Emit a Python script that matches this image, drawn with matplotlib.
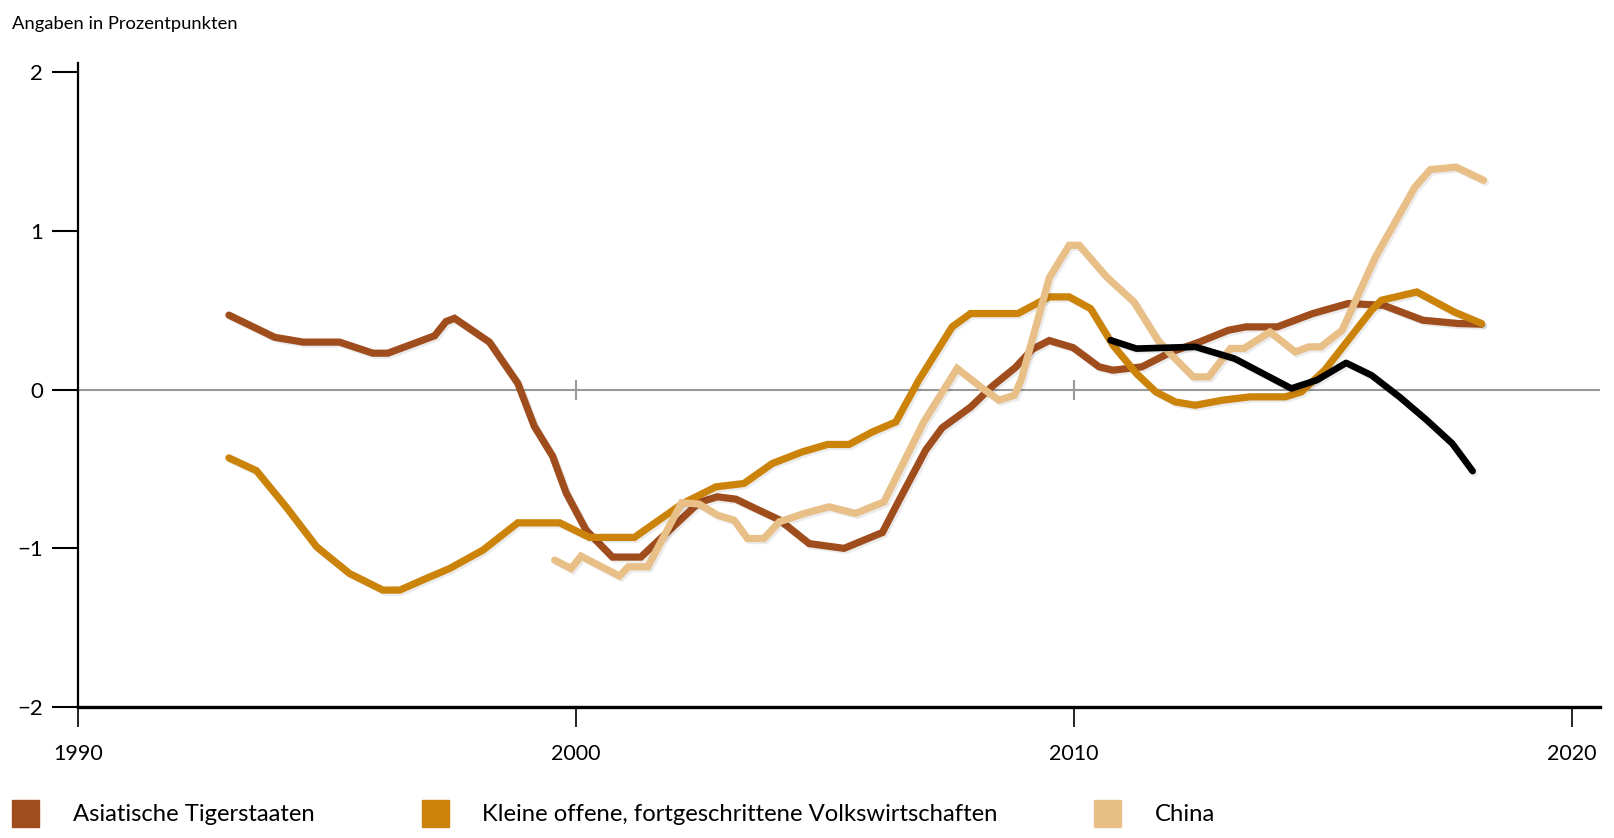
import matplotlib.pyplot as plt
import matplotlib.patheffects as pe
from matplotlib.patches import Rectangle

plt.rcParams['font.family'] = ['Lato', 'DejaVu Sans']

# Asiatische Tigerstaaten
tiger_x = [1993.03, 1993.95, 1994.52, 1995.25, 1995.92, 1996.22, 1996.82, 1997.16, 1997.39, 1997.56,
           1998.26, 1998.83, 1999.16, 1999.53, 1999.80, 2000.20, 2000.73, 2001.30, 2002.47, 2002.84,
           2003.21, 2003.54, 2004.08, 2004.68, 2005.38, 2006.15, 2006.48, 2007.02, 2007.35, 2007.92,
           2008.35, 2008.82, 2009.16, 2009.50, 2009.98, 2010.50, 2010.78, 2011.36, 2011.95, 2012.51,
           2013.10, 2013.45, 2014.08, 2014.79, 2015.50, 2016.21, 2017.00, 2017.71, 2018.18]
tiger_y = [0.47, 0.33, 0.30, 0.30, 0.23, 0.23, 0.30, 0.34, 0.43, 0.45,
           0.30, 0.04, -0.23, -0.42, -0.65, -0.885, -1.055, -1.055, -0.71, -0.675,
           -0.69, -0.74, -0.82, -0.97, -1.00, -0.90, -0.70, -0.38, -0.24, -0.11,
           0.02, 0.14, 0.255, 0.31, 0.265, 0.144, 0.123, 0.144, 0.238, 0.30,
           0.375, 0.396, 0.396, 0.48, 0.543, 0.532, 0.438, 0.417, 0.413]

# Kleine offene, fortgeschrittene Volkswirtschaften
small_x = [1993.03, 1993.58, 1994.18, 1994.79, 1995.45, 1996.12, 1996.46, 1996.99, 1997.46, 1998.13,
           1998.83, 1999.67, 2000.27, 2001.17, 2002.14, 2002.81, 2003.37, 2003.94, 2004.54, 2005.05,
           2005.48, 2005.95, 2006.42, 2006.88, 2007.55, 2007.92, 2008.87, 2009.50, 2009.90, 2010.33,
           2010.78, 2011.25, 2011.64, 2012.03, 2012.43, 2012.98, 2013.53, 2014.24, 2014.56, 2015.03,
           2015.50, 2015.97, 2016.17, 2016.88, 2017.63, 2018.18]
small_y = [-0.43, -0.51, -0.74, -0.99, -1.158, -1.263, -1.263, -1.19, -1.127, -1.011,
           -0.839, -0.839, -0.931, -0.931, -0.717, -0.612, -0.591, -0.465, -0.392, -0.345,
           -0.345, -0.266, -0.203, 0.06, 0.396, 0.48, 0.48, 0.585, 0.585, 0.511,
           0.28, 0.102, -0.014, -0.077, -0.098, -0.066, -0.045, -0.045, -0.014, 0.123,
           0.312, 0.501, 0.564, 0.616, 0.49, 0.417]

# China
china_x = [1999.57, 1999.90, 2000.10, 2000.87, 2001.05, 2001.44, 2002.12, 2002.47, 2002.84, 2003.17,
           2003.44, 2003.77, 2004.08, 2004.58, 2005.08, 2005.61, 2006.18, 2006.98, 2007.65, 2008.12,
           2008.49, 2008.80, 2008.94, 2009.50, 2009.90, 2010.10, 2010.65, 2011.20, 2011.68, 2011.99,
           2012.39, 2012.70, 2013.14, 2013.41, 2013.93, 2014.44, 2014.71, 2014.95, 2015.38, 2016.05,
           2016.84, 2017.15, 2017.67, 2018.22]
china_y = [-1.074, -1.127, -1.049, -1.174, -1.116, -1.116, -0.712, -0.721, -0.791, -0.822,
           -0.938, -0.938, -0.833, -0.78, -0.738, -0.78, -0.707, -0.203, 0.134, 0.018,
           -0.066, -0.035, 0.065, 0.705, 0.91, 0.91, 0.711, 0.553, 0.312, 0.207,
           0.081, 0.081, 0.26, 0.26, 0.364, 0.238, 0.27, 0.27, 0.375, 0.837,
           1.277, 1.387, 1.403, 1.32]

# black line (no legend entry)
black_x = [2010.73, 2011.25, 2012.43, 2013.22, 2014.36, 2014.87, 2015.46, 2015.97, 2016.53, 2017.08,
           2017.59, 2018.00]
black_y = [0.312, 0.259, 0.27, 0.196, 0.008, 0.06, 0.169, 0.091, -0.045, -0.192,
           -0.339, -0.513]

labels = ['Asiatische Tigerstaaten', 'Kleine offene, fortgeschrittene Volkswirtschaften', 'China']
colors = ['#A04D1E', '#CB830A', '#E8BF87']
x_ticks = [1990, 2000, 2010, 2020]
y_ticks = [-2, -1, 0, 1, 2]

fig = plt.figure(figsize=(16.15, 8.38), dpi=100)
ax = fig.add_axes([0.0483, 0.1563, 0.9425, 0.7687])

shadow = [pe.SimpleLineShadow(offset=(1.5, -1.5), shadow_color='k', alpha=0.08), pe.Normal()]

# zero line with little ticks
ax.axhline(0, color='#999999', lw=1.5, zorder=1)
ax.plot([2000, 2010], [0, 0], ls='none', marker='|', ms=14, mew=1.5, color='#999999', zorder=1)

for xs, ys, c in zip([tiger_x, small_x, china_x], [tiger_y, small_y, china_y], colors):
    ax.plot(xs, ys, color=c, lw=5.2, solid_capstyle='round', solid_joinstyle='miter',
            path_effects=shadow, zorder=3)
ax.plot(black_x, black_y, color='black', lw=4.8, solid_capstyle='round',
        path_effects=shadow, zorder=4)

ax.set_xlim(1990, 2020.56)
ax.set_ylim(-2, 2.06)
ax.set_xticks(x_ticks)
ax.set_yticks(y_ticks)
ax.set_yticklabels(['\u22122', '\u22121', '0', '1', '2'])
ax.tick_params(axis='y', length=19, width=1.5, pad=6, labelsize=16, color='black')
ax.tick_params(axis='x', length=14.5, width=1.2, pad=12, labelsize=15.5, color='black')
for s in ['top', 'right']:
    ax.spines[s].set_visible(False)
ax.spines['left'].set_linewidth(1.6)
ax.spines['bottom'].set_linewidth(2.4)

fig.text(0.0074, 0.971, 'Angaben in Prozentpunkten', fontsize=13.2, va='center', ha='left')

# legend
sq_x = [0.0074, 0.2613, 0.6774]
txt_x = [0.0452, 0.2985, 0.7152]
for sx, tx, c, lab in zip(sq_x, txt_x, colors, labels):
    fig.patches.append(Rectangle((sx, 0.0131), 0.0167, 0.0322, transform=fig.transFigure,
                                 color=c, figure=fig))
    fig.text(tx, 0.0286, lab, fontsize=17.2, va='center', ha='left')

fig.savefig('out.png', dpi=100)
